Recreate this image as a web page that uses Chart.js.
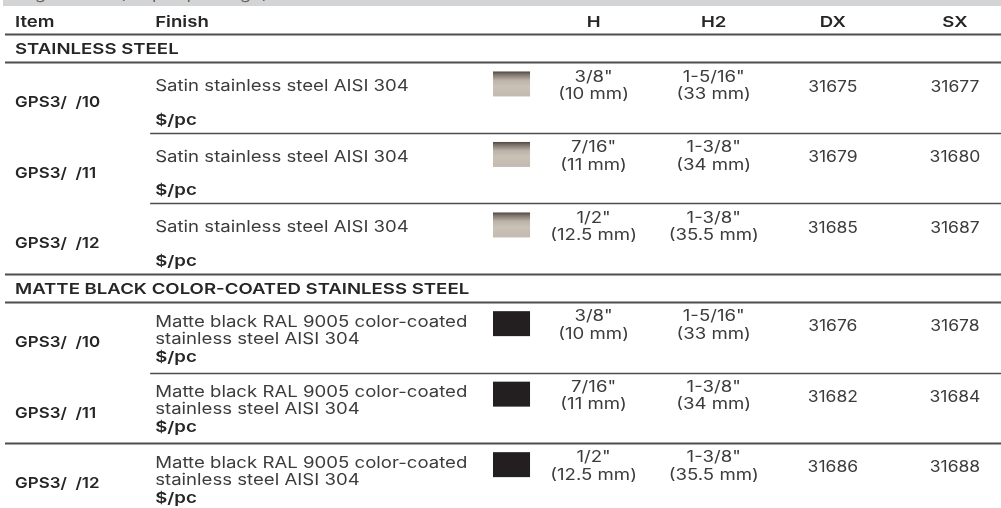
<!DOCTYPE html>
<html>
<head>
<meta charset="utf-8">
<script src="https://cdn.jsdelivr.net/npm/chart.js@4/dist/chart.umd.min.js"></script>
<style>
  html, body { margin: 0; padding: 0; background: #fff; }
  #wrap { width: 1001px; height: 508px; position: relative; }
</style>
</head>
<body>
<div id="wrap"><canvas id="chart"></canvas></div>
<script>
// table content
var columnTitles = ['Item', 'Finish', 'H', 'H2', 'DX', 'SX'];
var groupNames = ['STAINLESS STEEL', 'MATTE BLACK COLOR-COATED STAINLESS STEEL'];
var itemCodes = ['GPS3/  /10', 'GPS3/  /11', 'GPS3/  /12', 'GPS3/  /10', 'GPS3/  /11', 'GPS3/  /12'];
var finishLines = [
  ['Satin stainless steel AISI 304'],
  ['Satin stainless steel AISI 304'],
  ['Satin stainless steel AISI 304'],
  ['Matte black RAL 9005 color-coated', 'stainless steel AISI 304'],
  ['Matte black RAL 9005 color-coated', 'stainless steel AISI 304'],
  ['Matte black RAL 9005 color-coated', 'stainless steel AISI 304']
];
var priceLabel = '$/pc';
var swatchKind = ['satin', 'satin', 'satin', 'black', 'black', 'black'];
var hInch = ['3/8"', '7/16"', '1/2"', '3/8"', '7/16"', '1/2"'];
var hMm = ['(10 mm)', '(11 mm)', '(12.5 mm)', '(10 mm)', '(11 mm)', '(12.5 mm)'];
var h2Inch = ['1-5/16"', '1-3/8"', '1-3/8"', '1-5/16"', '1-3/8"', '1-3/8"'];
var h2Mm = ['(33 mm)', '(34 mm)', '(35.5 mm)', '(33 mm)', '(34 mm)', '(35.5 mm)'];
var dxCodes = ['31675', '31679', '31685', '31676', '31682', '31686'];
var sxCodes = ['31677', '31680', '31687', '31678', '31684', '31688'];

// row structure: header, group, item rows (index into the arrays above)
var rowKinds = ['head', 'group0', 0, 1, 2, 'group1', 3, 4, 5];
var rowHeights = [2, 2, 5, 5, 5, 2, 5, 5, 5];
var ruleBelow = ['full', 'full', 'part', 'part', 'full', 'full', 'part', 'full', 'none'];

// column anchors on the x axis (0..100)
var colItem = 1.5, colFinish = 15.5, colRuleStart = 15.0;
var colSwatch = [49.25, 52.95];
var colH = 59.3, colH2 = 71.3, colDX = 83.2, colSX = 95.4;

var REG = '15.5px Inter, "Open Sans", sans-serif';
var BOLD = '600 15px Inter, "Open Sans", sans-serif';
var TEXT = '#3c3c3c', DARK = '#262626', RULE = '#4d4d4d';
// the original face is wider than Inter, so glyphs get stretched a little
var WIDE_REG = 1.2, WIDE_BOLD = 1.24, WIDE_NUM = 1.13;

function drawTable(chart) {
  var ctx = chart.ctx;
  var x = chart.scales.x, y = chart.scales.y;
  var X = function(v) { return x.getPixelForValue(v); };
  var Y = function(v) { return y.getPixelForValue(v); };

  function put(str, px, py, align, font, color, wide) {
    ctx.save();
    ctx.font = font;
    ctx.fillStyle = color;
    ctx.textAlign = align;
    ctx.translate(px, py);
    ctx.scale(wide, 1);
    ctx.fillText(str, 0, 0);
    ctx.restore();
  }

  ctx.save();
  // grey band at the top with the clipped caption (only descenders show)
  ctx.fillStyle = '#d3d4d6';
  ctx.fillRect(X(0.3), Y(-1), X(100) - X(0.3), Y(0) - Y(-1));
  ctx.beginPath();
  ctx.rect(X(0), Y(-1), X(100), Y(0) - Y(-1));
  ctx.clip();
  ctx.textBaseline = 'alphabetic';
  put('Bag', X(1.2), Y(-0.47), 'left', REG, '#666', WIDE_REG);
  put('(kit per package)', X(11.9), Y(-0.47), 'left', REG, '#666', WIDE_REG);
  ctx.restore();

  ctx.save();
  ctx.textBaseline = 'middle';
  var top = 0;
  rowKinds.forEach(function(kind, r) {
    var h = rowHeights[r];
    if (kind === 'head') {
      put(columnTitles[0], X(colItem), Y(top + 1.13), 'left', BOLD, DARK, WIDE_BOLD);
      put(columnTitles[1], X(colFinish), Y(top + 1.13), 'left', BOLD, DARK, WIDE_BOLD);
      [colH, colH2, colDX, colSX].forEach(function(c, i) {
        put(columnTitles[i + 2], X(c), Y(top + 1.13), 'center', BOLD, DARK, WIDE_BOLD);
      });
    } else if (typeof kind === 'string') {
      put(groupNames[+kind.slice(5)], X(colItem), Y(top + 1.1), 'left', BOLD, DARK, WIDE_BOLD);
    } else {
      var i = kind;
      put(itemCodes[i], X(colItem), Y(top + 2.87), 'left', BOLD, DARK, WIDE_NUM);
      var lines = finishLines[i];
      if (lines.length === 1) {
        put(lines[0], X(colFinish), Y(top + 1.7), 'left', REG, TEXT, WIDE_REG);
        put(priceLabel, X(colFinish), Y(top + 4.11), 'left', BOLD, DARK, WIDE_BOLD);
      } else {
        put(lines[0], X(colFinish), Y(top + 1.42), 'left', REG, TEXT, WIDE_REG);
        put(lines[1], X(colFinish), Y(top + 2.62), 'left', REG, TEXT, WIDE_REG);
        put(priceLabel, X(colFinish), Y(top + 3.9), 'left', BOLD, DARK, WIDE_BOLD);
      }
      // swatch
      var sx0 = X(colSwatch[0]), sx1 = X(colSwatch[1]);
      var sy0 = Y(top + 0.64), sy1 = Y(top + 2.41);
      if (swatchKind[i] === 'satin') {
        var g = ctx.createLinearGradient(0, sy0, 0, sy1);
        g.addColorStop(0, '#4e4641');
        g.addColorStop(0.12, '#7d746d');
        g.addColorStop(0.35, '#bdb3a8');
        g.addColorStop(0.6, '#cbc2b7');
        g.addColorStop(1, '#c3b9ae');
        ctx.fillStyle = g;
      } else {
        ctx.fillStyle = '#231f20';
      }
      ctx.fillRect(sx0, sy0, sx1 - sx0, sy1 - sy0);
      // dimensions and codes
      put(hInch[i], X(colH), Y(top + 1.03), 'center', REG, TEXT, WIDE_REG);
      put(hMm[i], X(colH), Y(top + 2.27), 'center', REG, TEXT, WIDE_REG);
      put(h2Inch[i], X(colH2), Y(top + 1.03), 'center', REG, TEXT, WIDE_REG);
      put(h2Mm[i], X(colH2), Y(top + 2.27), 'center', REG, TEXT, WIDE_REG);
      put(dxCodes[i], X(colDX), Y(top + 1.74), 'center', REG, TEXT, WIDE_NUM);
      put(sxCodes[i], X(colSX), Y(top + 1.74), 'center', REG, TEXT, WIDE_NUM);
    }
    top += h;
    // rule under the row
    if (ruleBelow[r] !== 'none') {
      var from = ruleBelow[r] === 'full' ? 0.5 : colRuleStart;
      var yy = Math.round(Y(top)) + 0.5;
      ctx.strokeStyle = RULE;
      ctx.lineWidth = ruleBelow[r] === 'full' ? 2 : 1.5;
      ctx.beginPath();
      ctx.moveTo(X(from), yy);
      ctx.lineTo(X(100), yy);
      ctx.stroke();
    }
  });
  ctx.restore();
}

new Chart(document.getElementById('chart').getContext('2d'), {
  type: 'scatter',
  data: { datasets: [] },
  options: {
    responsive: true,
    maintainAspectRatio: false,
    animation: false,
    layout: { padding: 0 },
    plugins: { legend: { display: false }, tooltip: { enabled: false } },
    scales: {
      x: { type: 'linear', min: 0, max: 100, display: false },
      y: { type: 'linear', min: -0.43, max: 35.6, reverse: true, display: false }
    }
  },
  plugins: [{
    id: 'tableDraw',
    beforeDraw: function(chart) {
      chart.ctx.save();
      chart.ctx.fillStyle = '#fff';
      chart.ctx.fillRect(0, 0, chart.width, chart.height);
      chart.ctx.restore();
    },
    afterDraw: drawTable
  }]
});
</script>
</body>
</html>
